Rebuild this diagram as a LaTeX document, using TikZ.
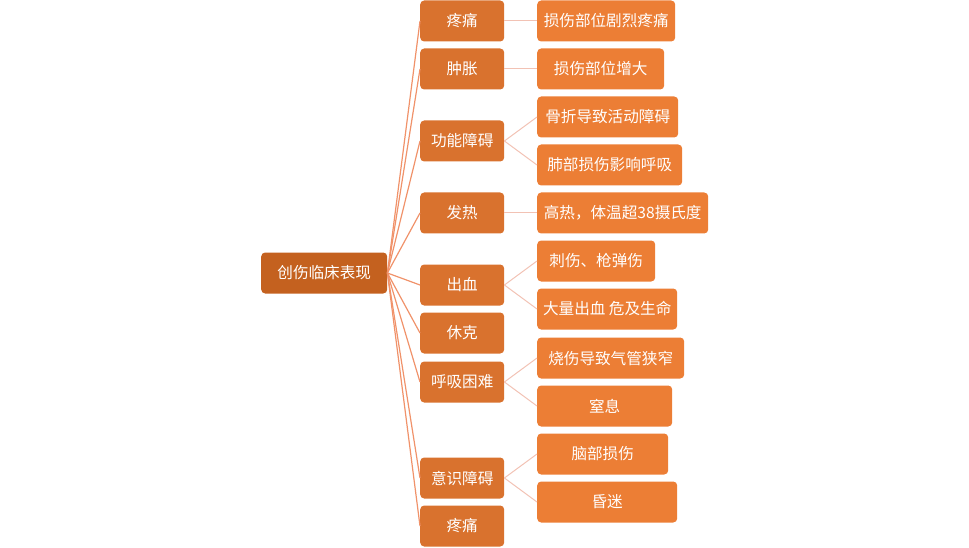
\documentclass[tikz,border=0pt]{standalone}
\usepackage{fontspec}
\newfontfamily\cjk{Noto Sans CJK SC}
\definecolor{rootc}{HTML}{C4611F}
\definecolor{symc}{HTML}{D9722E}
\definecolor{detc}{HTML}{EC7E35}
\definecolor{symline}{HTML}{F0926A}
\definecolor{detline}{HTML}{F2C2B4}

\begin{document}
\begin{tikzpicture}[x=1pt,y=-1pt,
box/.style={%
anchor=west,
rounded corners=4pt,
minimum height=41pt,
inner sep=0pt,
text=white,
font=\cjk\fontsize{15.6}{18}\selectfont
},
root/.style={%
box,
fill=rootc,
minimum width=126pt
},
sym/.style={%
box,
fill=symc,
minimum width=84pt
},
det/.style={%
box,
fill=detc
},
]
\useasboundingbox (0,0) rectangle (969,548);
%% Root
\node[root](root)at(261,273){创伤临床表现};
%% Symptoms
\node[sym](s1)at(420,21){疼痛};
\node[sym](s2)at(420,69){肿胀};
\node[sym](s3)at(420,141){功能障碍};
\node[sym](s4)at(420,213){发热};
\node[sym](s5)at(420,285){出血};
\node[sym](s6)at(420,333){休克};
\node[sym](s7)at(420,382){呼吸困难};
\node[sym](s8)at(420,478){意识障碍};
\node[sym](s9)at(420,526){疼痛};
%% Details
\node[det,minimum width=138pt](d1)at(537,21){损伤部位剧烈疼痛};
\node[det,minimum width=127pt](d2)at(537,69){损伤部位增大};
\node[det,minimum width=141pt](d3)at(537,117){骨折导致活动障碍};
\node[det,minimum width=145pt](d4)at(537,165){肺部损伤影响呼吸};
\node[det,minimum width=171pt](d5)at(537,213){高热，体温超38摄氏度};
\node[det,minimum width=118pt](d6)at(537,261){刺伤、枪弹伤};
\node[det,minimum width=140pt](d7)at(537,309){大量出血 危及生命};
\node[det,minimum width=147pt](d8)at(537,358){烧伤导致气管狭窄};
\node[det,minimum width=135pt](d9)at(537,406){窒息};
\node[det,minimum width=131pt](d10)at(537,454){脑部损伤};
\node[det,minimum width=140pt](d11)at(537,502){昏迷};
%% Links
\foreach \i in {1,...,9}{%
\draw[symline,line width=1.2pt] (root.east)--(s\i.west);
}
\foreach \s/\d in {1/1,2/2,3/3,3/4,4/5,5/6,5/7,7/8,7/9,8/10,8/11}{%
\draw[detline,line width=1pt] (s\s.east)--(d\d.west);
}
\end{tikzpicture}
\end{document}
